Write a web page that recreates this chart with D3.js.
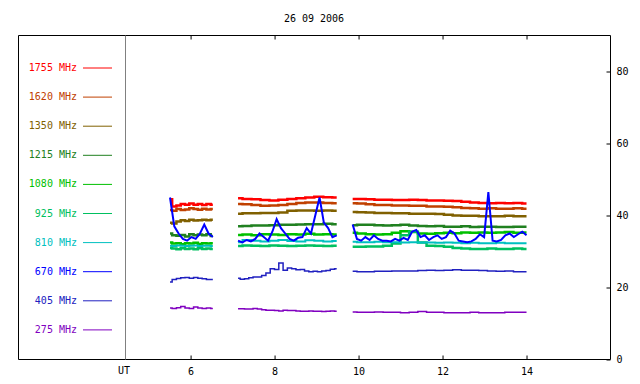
<!DOCTYPE html>
<html>
<head>
<meta charset="utf-8">
<script src="https://cdn.jsdelivr.net/npm/d3@7"></script>
<style>
  body { margin: 0; background: #fff; }
  text { font-family: "DejaVu Sans Mono", monospace; font-size: 10px; }
</style>
</head>
<body>
<script>
// Datos: frecuencias, tramos horarios (UT) y valores
var titulo = "26 09 2006";
var frecuencias = ["1755", "1620", "1350", "1215", "1080", "925", "810", "670", "405", "275"];
var colores = ["#ff0000", "#c04000", "#806000", "#208020", "#00c000", "#00c060", "#00c0c0", "#0000ff", "#2020c0", "#8000c0"];
var tramos = [[5.51, 6.53], [7.13, 9.48], [9.86, 14.0]];
var ticksX = [6, 8, 10, 12, 14];
var ticksY = [0, 20, 40, 60, 80];

var v1755 = [
  [44.5, 42.5, 42.8, 43.2, 43.0, 43.3, 43.0, 43.2, 42.9, 43.2, 43.0],
  [44.8, 44.6, 44.5, 44.3, 44.2, 44.4, 44.6, 44.8, 45.0, 45.2, 45.1, 45.0],
  [44.6, 44.6, 44.5, 44.4, 44.4, 44.3, 44.3, 44.4, 44.3, 44.2, 44.2, 44.1, 44.0, 43.8, 43.6, 43.5, 43.4, 43.5, 43.4, 43.5, 43.3]
];
var v1620 = [
  [41.5, 41.3, 41.8, 41.5, 41.7, 42.0, 41.8, 41.6, 41.9, 41.7, 41.8],
  [43.2, 43.1, 42.9, 42.7, 42.8, 42.9, 43.2, 43.5, 43.6, 43.6, 43.5, 43.4],
  [43.4, 43.3, 43.1, 42.9, 42.9, 42.8, 42.8, 42.7, 42.7, 42.5, 42.5, 42.4, 42.3, 42.1, 42.0, 41.9, 42.0, 41.9, 41.9, 42.0, 41.9]
];
var v1350 = [
  [38.0, 37.8, 38.3, 38.7, 38.5, 38.8, 38.6, 38.7, 38.8, 38.7, 38.8],
  [40.5, 40.6, 40.6, 40.7, 40.7, 40.8, 41.3, 41.4, 41.4, 41.3, 41.4, 41.3],
  [41.0, 40.9, 40.8, 40.7, 40.7, 40.6, 40.6, 40.5, 40.5, 40.5, 40.4, 40.2, 40.0, 39.9, 39.9, 39.8, 39.8, 39.8, 39.9, 39.8, 39.8]
];
var v1215 = [
  [35.0, 34.5, 34.4, 34.6, 34.2, 34.8, 34.5, 34.7, 34.5, 34.8, 34.3],
  [37.0, 37.1, 37.2, 37.2, 37.3, 37.4, 37.4, 37.5, 37.6, 37.6, 37.7, 37.6],
  [37.3, 37.4, 37.4, 37.3, 37.2, 37.3, 37.4, 37.2, 37.1, 37.0, 37.1, 36.9, 36.9, 37.0, 36.8, 36.9, 36.9, 36.8, 36.8, 36.9, 36.9]
];
var v1080 = [
  [32.5, 32.2, 32.3, 32.0, 32.3, 32.2, 32.4, 32.1, 32.3, 32.2, 32.3],
  [34.6, 34.7, 34.5, 34.8, 34.7, 34.6, 34.8, 34.7, 34.9, 34.7, 34.8, 34.7],
  [35.2, 35.0, 34.8, 34.7, 34.8, 35.2, 35.6, 35.4, 35.0, 34.9, 35.1, 35.2, 35.1, 35.3, 35.2, 35.3, 35.2, 35.3, 35.4, 35.2, 35.3]
];
var v925 = [
  [31.0, 30.8, 30.6, 30.9, 30.7, 30.8, 30.6, 30.9, 30.7, 30.8, 30.7],
  [31.5, 31.7, 31.6, 31.5, 31.7, 31.6, 31.5, 31.6, 31.7, 31.6, 31.5, 31.6],
  [31.3, 31.3, 31.4, 31.4, 31.6, 32.2, 34.5, 35.5, 32.5, 31.6, 31.5, 31.3, 31.0, 30.8, 30.7, 30.7, 30.8, 30.7, 30.7, 30.8, 30.7]
];
var v810 = [
  [31.6, 31.5, 31.7, 31.6, 31.5, 31.6, 31.7, 31.5, 31.6, 31.6, 31.5],
  [32.6, 33.2, 33.0, 32.8, 33.0, 33.2, 32.9, 32.8, 33.1, 33.0, 32.8, 32.9],
  [32.7, 32.6, 32.6, 32.7, 32.6, 32.6, 32.5, 32.6, 32.5, 32.5, 32.4, 32.5, 32.4, 32.3, 32.4, 32.3, 32.3, 32.4, 32.3, 32.3, 32.3]
];
var v670 = [
  [45.0, 37.0, 35.0, 33.5, 33.0, 34.0, 33.5, 35.0, 37.5, 35.0, 34.0],
  [33.0, 32.5, 33.2, 32.8, 33.5, 35.0, 34.0, 33.0, 35.5, 39.0, 36.5, 35.0, 33.5, 33.0, 33.8, 34.0, 36.5, 35.0, 40.0, 45.0, 38.0, 36.5, 34.0, 34.5],
  [37.5, 33.5, 33.0, 34.0, 33.2, 34.5, 33.5, 33.0, 33.0, 32.8, 33.5, 33.0, 33.8, 33.2, 35.5, 36.0, 34.0, 34.5, 33.2, 34.0, 34.5, 33.5,
   34.0, 35.8, 35.0, 33.0, 32.8, 32.6, 32.8, 33.5, 34.8, 34.0, 46.5, 33.0, 32.8, 33.2, 34.5, 35.0, 34.0, 34.8, 35.5, 34.5]
];
var v405 = [
  [21.5, 22.2, 22.5, 22.7, 22.8, 22.6, 22.8, 22.6, 22.4, 22.2, 22.2],
  [22.6, 22.3, 22.4, 22.7, 22.9, 22.9, 23.3, 24.0, 25.2, 25.0, 26.8, 24.8, 25.4, 25.2, 24.9, 25.0, 24.6, 24.4, 24.5, 24.4, 24.6, 24.7, 25.1, 25.2],
  [24.5, 24.4, 24.4, 24.5, 24.5, 24.6, 24.6, 24.6, 24.7, 24.8, 24.7, 24.8, 24.9, 24.8, 24.8, 24.7, 24.6, 24.5, 24.6, 24.4, 24.4]
];
var v275 = [
  [14.3, 14.2, 14.4, 14.7, 14.3, 14.2, 14.6, 14.3, 14.2, 14.3, 14.2],
  [14.1, 14.1, 14.0, 14.0, 14.2, 14.0, 13.8, 13.7, 13.7, 13.6, 13.5, 13.7, 13.6, 13.6, 13.5, 13.4, 13.4, 13.5, 13.4, 13.4, 13.3, 13.4, 13.5, 13.4],
  [13.2, 13.1, 13.1, 13.2, 13.1, 13.1, 13.0, 13.1, 13.3, 13.1, 13.1, 13.0, 13.0, 13.0, 13.1, 13.0, 13.0, 13.0, 13.1, 13.1, 13.1]
];
var valores = [v1755, v1620, v1350, v1215, v1080, v925, v810, v670, v405, v275];
var grosores = [2.5, 2.5, 2.5, 2.5, 2.5, 2.5, 2, 2, 1.5, 1.5];

// Área de trabajo
var width = 640, height = 384;
var svg = d3.select("body").append("svg")
    .attr("width", width)
    .attr("height", height);

var x = d3.scaleLinear().domain([4.45, 16.0]).range([125.5, 610.5]);
var y = d3.scaleLinear().domain([0, 90]).range([359.5, 35.5]);

// Título
svg.append("text")
   .attr("x", 314).attr("y", 18)
   .attr("text-anchor", "middle")
   .attr("dy", "0.35em")
   .text(titulo);

// Marco
svg.append("path")
   .attr("d", "M18.5,35.5H610.5V359.5H18.5Z")
   .attr("fill", "none")
   .attr("stroke", "#000");
svg.append("line")
   .attr("x1", 125.5).attr("x2", 125.5)
   .attr("y1", 35.5).attr("y2", 359.5)
   .attr("stroke", "#808080");

// Ejes
var ejeX = svg.append("g")
   .attr("transform", "translate(0,359.5)")
   .call(d3.axisBottom(x).tickValues(ticksX).tickSizeInner(-4).tickSizeOuter(0).tickPadding(8));
var ejeTop = svg.append("g")
   .attr("transform", "translate(0,35.5)")
   .call(d3.axisTop(x).tickValues(ticksX).tickSizeInner(-4).tickSizeOuter(0).tickFormat(""));
var ejeY = svg.append("g")
   .attr("transform", "translate(610.5,0)")
   .call(d3.axisRight(y).tickValues(ticksY).tickSizeInner(-4).tickSizeOuter(0).tickPadding(6));

[ejeX, ejeTop, ejeY].forEach(function(g) {
    g.select(".domain").remove();
    g.selectAll("text").style("font-family", "'DejaVu Sans Mono', monospace").style("font-size", "10px").attr("fill", "#000");
});

svg.append("text")
   .attr("x", 124).attr("y", 370)
   .attr("text-anchor", "middle")
   .attr("dy", "0.35em")
   .text("UT");

// Leyenda
var leyenda = svg.append("g").selectAll("g")
    .data(frecuencias)
    .enter().append("g")
    .attr("transform", function(d, i) { return "translate(0," + (67.5 + i * 29.1) + ")"; });
leyenda.append("text")
    .attr("x", 77)
    .attr("text-anchor", "end")
    .attr("dy", "0.35em")
    .attr("fill", function(d, i) { return colores[i]; })
    .text(function(d) { return d + " MHz"; });
leyenda.append("line")
    .attr("x1", 83).attr("x2", 112)
    .attr("y1", 0.5).attr("y2", 0.5)
    .attr("stroke", function(d, i) { return colores[i]; });

// Series: escalonadas las planas, lineal la de 670 MHz (más ruidosa)
var lineaEscalon = d3.line()
    .curve(d3.curveStep)
    .x(function(d) { return x(d.t); })
    .y(function(d) { return y(d.v); });
var lineaRecta = d3.line()
    .x(function(d) { return x(d.t); })
    .y(function(d) { return y(d.v); });

valores.forEach(function(serie, k) {
    serie.forEach(function(seg, s) {
        var t0 = tramos[s][0], t1 = tramos[s][1];
        var puntos = seg.map(function(v, i) {
            return { t: t0 + i * (t1 - t0) / (seg.length - 1), v: v };
        });
        svg.append("path")
           .datum(puntos)
           .attr("fill", "none")
           .attr("stroke", colores[k])
           .attr("stroke-width", grosores[k])
           .attr("d", frecuencias[k] === "670" ? lineaRecta : lineaEscalon);
    });
});
</script>
</body>
</html>
